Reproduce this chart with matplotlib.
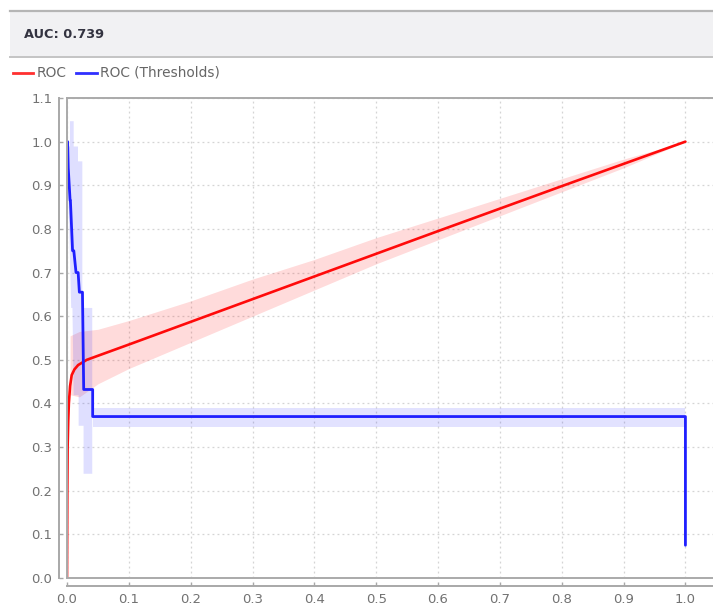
import matplotlib
matplotlib.use("Agg")
import matplotlib.pyplot as plt
from matplotlib.patches import Rectangle
from matplotlib.lines import Line2D
import numpy as np

# valores
auc_text = "AUC: 0.739"
legend_names = ["ROC", "ROC (Thresholds)"]

# curva ROC (vermelha)
roc_x = [0.0, 0.0005, 0.001, 0.002, 0.003, 0.005, 0.0076, 0.012, 0.018, 0.032,
         0.1, 0.2, 0.4, 0.6, 0.8, 1.0]
roc_y = [0.0, 0.2, 0.3, 0.36, 0.40, 0.44, 0.465, 0.478, 0.488, 0.50,
         0.535, 0.587, 0.691, 0.795, 0.898, 1.0]

# faixa da curva ROC
roc_band_x = [0.005, 0.02, 0.05, 0.1, 0.2, 0.3, 0.4, 0.5, 0.6, 0.7, 0.8, 0.9, 1.0]
roc_band_lo = [0.42, 0.415, 0.445, 0.48, 0.54, 0.60, 0.66, 0.72, 0.775, 0.83, 0.885, 0.94, 1.0]
roc_band_hi = [0.555, 0.565, 0.57, 0.59, 0.635, 0.685, 0.73, 0.78, 0.825, 0.87, 0.915, 0.96, 1.0]

# curva ROC (Thresholds) (azul), em degraus
thr_x = [0.001, 0.002, 0.005, 0.0055, 0.009, 0.011, 0.0146, 0.018, 0.02, 0.025,
         0.027, 0.0415, 0.0415, 1.0, 1.0]
thr_y = [1.0, 0.94, 0.865, 0.865, 0.75, 0.75, 0.70, 0.70, 0.655, 0.655,
         0.432, 0.432, 0.37, 0.37, 0.075]

# faixa vertical da curva azul
thr_band_y = [0.24, 0.35, 0.35, 0.42, 0.42, 0.62, 0.62, 0.956, 0.956, 0.99, 0.99, 1.048]
thr_band_xlo = [0.026, 0.026, 0.018, 0.018, 0.010, 0.008, 0.006, 0.0, 0.0, 0.0, 0.004, 0.004]
thr_band_xhi = [0.040, 0.040, 0.040, 0.040, 0.040, 0.040, 0.024, 0.024, 0.017, 0.017, 0.010, 0.010]
# faixa horizontal da curva azul
thr_flat_x = [0.042, 1.0]
thr_flat_lo = [0.347, 0.347]
thr_flat_hi = [0.39, 0.39]

W, H = 713, 608
fig = plt.figure(figsize=(W / 100, H / 100), dpi=100)
fig.patch.set_facecolor("white")

# cabeçalho cinza com o AUC
fig.add_artist(Rectangle((10 / W, 1 - 58 / H), 1, 47 / H, transform=fig.transFigure,
                         facecolor="#f1f1f3", edgecolor="none"))
fig.add_artist(Line2D([10 / W, 1], [1 - 11 / H, 1 - 11 / H], transform=fig.transFigure,
                      color="#b5b5b5", lw=1.6))
fig.add_artist(Line2D([10 / W, 1], [1 - 57 / H, 1 - 57 / H], transform=fig.transFigure,
                      color="#c4c4c4", lw=1.4))
fig.text(24 / W, 1 - 35 / H, auc_text, fontsize=9.3, fontweight="bold",
         color="#333340", va="center", ha="left")

# legenda
fig.add_artist(Line2D([13 / W, 33 / W], [1 - 73 / H] * 2, transform=fig.transFigure,
                      color="#ff3030", lw=2))
fig.text(37 / W, 1 - 73 / H, legend_names[0], fontsize=9.9, color="#666666", va="center")
fig.add_artist(Line2D([76 / W, 97 / W], [1 - 73 / H] * 2, transform=fig.transFigure,
                      color="#3030ff", lw=2))
fig.text(100 / W, 1 - 73 / H, legend_names[1], fontsize=9.9, color="#666666", va="center")

# área do gráfico
ax = fig.add_axes([67 / W, 1 - 578 / H, (713 - 67) / W, (578 - 98) / H])
ax.set_xlim(0, 1.0446)
ax.set_ylim(0, 1.1)

ax.fill_between(roc_band_x, roc_band_lo, roc_band_hi, color="#ff0000", alpha=0.14, lw=0)
ax.fill_betweenx(thr_band_y, thr_band_xlo, thr_band_xhi, color="#2020ff", alpha=0.14, lw=0)
ax.fill_between(thr_flat_x, thr_flat_lo, thr_flat_hi, color="#2020ff", alpha=0.13, lw=0)

ax.plot(roc_x, roc_y, color="#ff0a0a", lw=1.9, solid_capstyle="round")
ax.plot(thr_x, thr_y, color="#1f1fff", lw=2.0, solid_capstyle="round")

ax.set_xticks(np.round(np.arange(0, 1.01, 0.1), 1))
ax.set_yticks(np.round(np.arange(0, 1.11, 0.1), 1))
ax.grid(True, color="#d4d4d4", linestyle=(0, (1.5, 2.5)), lw=0.9)
ax.set_axisbelow(True)

# moldura cinza + eixos deslocados
ax.spines["top"].set_color("#aaaaaa")
ax.spines["top"].set_linewidth(1.4)
ax.spines["right"].set_visible(False)
for s in ["left", "bottom"]:
    ax.spines[s].set_position(("outward", 5.5))
    ax.spines[s].set_color("#a8a8a8")
    ax.spines[s].set_linewidth(1.4)
ax.plot([0, 0], [0, 1], transform=ax.transAxes, color="#aaaaaa", lw=1.4, clip_on=False)
ax.plot([0, 1], [0, 0], transform=ax.transAxes, color="#aaaaaa", lw=1.4, clip_on=False)

ax.tick_params(direction="in", length=3, width=1, color="#a8a8a8",
               labelsize=9.5, labelcolor="#727272", pad=5)
ax.set_xticklabels([f"{v:.1f}" for v in ax.get_xticks()])
ax.set_yticklabels([f"{v:.1f}" for v in ax.get_yticks()])

fig.savefig("out.png", dpi=100, facecolor="white")
